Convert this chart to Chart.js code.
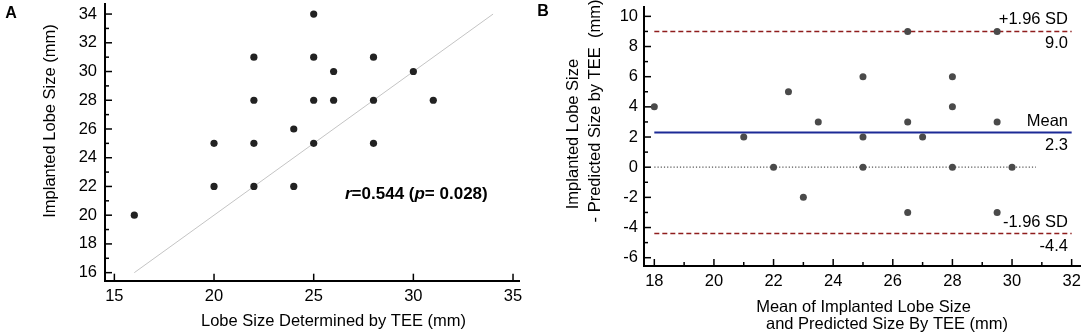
<!DOCTYPE html>
<html><head><meta charset="utf-8">
<script src="https://cdn.jsdelivr.net/npm/chart.js@4.4.1/dist/chart.umd.min.js"></script>
<style>
html,body{margin:0;padding:0;background:#fff;}
#wrap{position:relative;width:1084px;height:334px;overflow:hidden;background:#fff;}
#ca{position:absolute;left:0;top:0;}
#cb{position:absolute;left:530px;top:0;}
</style></head><body>
<div id="wrap"><canvas id="ca" width="530" height="334"></canvas><canvas id="cb" width="554" height="334"></canvas></div>
<script>
// ---------- Panel A data ----------
const teeSize       = [16,20,20,22,22,22,22,24,24,25,25,25,25,26,26,28,28,28,30,31];
const implantedSize = [20,25,22,31,28,25,22,26,22,34,31,28,25,30,28,31,28,25,30,28];
const identityLineX = [16,34];
const aXTicks = [15,20,25,30,35];
const aYTicks = [16,18,20,22,24,26,28,30,32,34];
const aYMinor = [17,19,21,23,25,27,29,31,33];
const aXTitle = 'Lobe Size Determined by TEE (mm)';
const aYTitle = 'Implanted Lobe Size (mm)';
const corrR = '0.544';
const corrP = '0.028';

// ---------- Panel B data ----------
const meanSize = [18,22.5,21,26.5,25,23.5,22,25,23,29.5,28,26.5,25,28,27,29.5,28,26.5,30,29.5];
const sizeDiff = [4,5,2,9,6,3,0,2,-2,9,6,3,0,4,2,3,0,-3,0,-3];
const meanDiff = 2.3;
const upperLoA = 9.0;
const lowerLoA = -4.4;
const limitLineX = [18,32];
const zeroLineX = [18,30.8];
const bXTicks = [18,20,22,24,26,28,30,32];
const bXMinor = [19,21,23,25,27,29,31];
const bYTicks = [-6,-4,-2,0,2,4,6,8,10];
const bYMinor = [-5,-3,-1,1,3,5,7,9];
const bXTitle = ['Mean of Implanted Lobe Size','and Predicted Size By TEE (mm)'];
const bYTitle = ['Implanted Lobe Size','- Predicted Size by TEE  (mm)'];

const FONT = '"Liberation Sans", Arial, Helvetica, sans-serif';
const FS = 16.5;

function fixY(w){ return function(s){ s.width = w; s.paddingTop = 0; s.paddingBottom = 0; }; }
function fixX(h){ return function(s){ s.height = h; s.paddingLeft = 0; s.paddingRight = 0; }; }
function setTicks(arr){ return function(s){ s.ticks = arr.map(v => ({value: v})); }; }

function tickMarks(xMajor, xMinor, yMajor, yMinor){
  return {
    id: 'tickMarks',
    afterDraw(chart){
      const ctx = chart.ctx, a = chart.chartArea, sx = chart.scales.x, sy = chart.scales.y;
      ctx.save();
      ctx.strokeStyle = '#000'; ctx.lineWidth = 1.5;
      const seg = (x1,y1,x2,y2) => { ctx.beginPath(); ctx.moveTo(x1,y1); ctx.lineTo(x2,y2); ctx.stroke(); };
      xMajor.forEach(v => { const p = sx.getPixelForValue(v); seg(p, a.bottom, p, a.bottom - 7); });
      xMinor.forEach(v => { const p = sx.getPixelForValue(v); seg(p, a.bottom, p, a.bottom - 4); });
      yMajor.forEach(v => { const p = sy.getPixelForValue(v); seg(a.left, p, a.left + 7, p); });
      yMinor.forEach(v => { const p = sy.getPixelForValue(v); seg(a.left, p, a.left + 4, p); });
      ctx.restore();
    }
  };
}

const baseScale = (min, max, ticks, padding, fit) => ({
  type: 'linear', min, max,
  grid: { display: false, drawTicks: false },
  border: { display: true, color: '#000', width: 2 },
  ticks: { color: '#000', font: { family: FONT, size: FS }, padding, autoSkip: false, maxRotation: 0,
           callback: v => String(v) },
  afterBuildTicks: setTicks(ticks),
  afterFit: fit
});

// ---------- Chart A ----------
const textA = {
  id: 'textA',
  afterDraw(chart){
    const ctx = chart.ctx;
    ctx.save();
    ctx.fillStyle = '#000';
    ctx.font = 'bold 16px ' + FONT; ctx.textAlign = 'center'; ctx.textBaseline = 'middle';
    ctx.fillText('A', 11, 14);
    ctx.font = FS + 'px ' + FONT;
    ctx.textAlign = 'left';
    ctx.fillText(aXTitle, 201, 321);
    ctx.save(); ctx.translate(50, 121); ctx.rotate(-Math.PI/2); ctx.textAlign = 'center';
    ctx.fillText(aYTitle, 0, 0); ctx.restore();
    // correlation annotation
    let x = 345; const y = 194;
    const parts = [['r', true], ['=' + corrR + ' (', false], ['p', true], ['= ' + corrP + ')', false]];
    parts.forEach(([t, it]) => {
      ctx.font = (it ? 'italic ' : '') + 'bold 17px ' + FONT;
      ctx.fillText(t, x, y); x += ctx.measureText(t).width;
    });
    ctx.restore();
  }
};

new Chart(document.getElementById('ca'), {
  type: 'scatter',
  data: { datasets: [
    { data: teeSize.map((v,i) => ({x: v, y: implantedSize[i]})), backgroundColor: '#222', borderColor: '#222',
      pointRadius: 3.6, pointHoverRadius: 3.6, borderWidth: 0 },
    { type: 'line', data: identityLineX.map(v => ({x: v, y: v})), borderColor: '#c4c4c4', borderWidth: 1,
      pointRadius: 0, fill: false }
  ]},
  options: {
    responsive: false, animation: false, devicePixelRatio: 1,
    layout: { padding: { left: 0, top: 4, right: 11, bottom: 0 } },
    plugins: { legend: { display: false }, tooltip: { enabled: false } },
    scales: {
      x: baseScale(14.53, 35.3, aXTicks, 6, fixX(53.3)),
      y: baseScale(15.44, 34.7, aYTicks, 8, fixY(105))
    }
  },
  plugins: [tickMarks(aXTicks, [], aYTicks, aYMinor), textA]
});

// ---------- Chart B ----------
const textB = {
  id: 'textB',
  afterDraw(chart){
    const ctx = chart.ctx, a = chart.chartArea, sy = chart.scales.y;
    ctx.save();
    ctx.fillStyle = '#000';
    ctx.font = 'bold 16px ' + FONT; ctx.textAlign = 'center'; ctx.textBaseline = 'middle';
    ctx.fillText('B', 13, 12);
    ctx.font = FS + 'px ' + FONT;
    // axis titles
    ctx.fillText(bXTitle[0], 333.5, 307);
    ctx.fillText(bXTitle[1], 357, 324);
    ctx.save(); ctx.translate(43.5, 134); ctx.rotate(-Math.PI/2); ctx.fillText(bYTitle[0], 0, 0); ctx.restore();
    ctx.save(); ctx.translate(65, 111); ctx.rotate(-Math.PI/2); ctx.fillText(bYTitle[1], 0, 0); ctx.restore();
    // limit labels
    ctx.textAlign = 'right';
    const xr = a.right - 12;
    const lab = (val, above, below) => {
      const p = sy.getPixelForValue(val);
      ctx.fillText(above, xr, p - 11.5);
      ctx.fillText(below, xr, p + 12.5);
    };
    lab(upperLoA, '+1.96 SD', upperLoA.toFixed(1));
    lab(meanDiff, 'Mean', meanDiff.toFixed(1));
    lab(lowerLoA, '-1.96 SD', lowerLoA.toFixed(1));
    ctx.restore();
  }
};

new Chart(document.getElementById('cb'), {
  type: 'scatter',
  data: { datasets: [
    { data: meanSize.map((v,i) => ({x: v, y: sizeDiff[i]})), backgroundColor: '#4a4a4a', borderColor: '#4a4a4a',
      pointRadius: 3.5, pointHoverRadius: 3.5, borderWidth: 0 },
    { type: 'line', data: limitLineX.map(v => ({x: v, y: upperLoA})), borderColor: '#8f1d1d', borderWidth: 1.5,
      borderDash: [5, 3], pointRadius: 0, fill: false },
    { type: 'line', data: limitLineX.map(v => ({x: v, y: lowerLoA})), borderColor: '#8f1d1d', borderWidth: 1.5,
      borderDash: [5, 3], pointRadius: 0, fill: false },
    { type: 'line', data: limitLineX.map(v => ({x: v, y: meanDiff})), borderColor: '#1c2a96', borderWidth: 2,
      pointRadius: 0, fill: false },
    { type: 'line', data: zeroLineX.map(v => ({x: v, y: 0})), borderColor: '#555', borderWidth: 1.2,
      borderDash: [1.2, 2], pointRadius: 0, fill: false }
  ]},
  options: {
    responsive: false, animation: false, devicePixelRatio: 1,
    layout: { padding: { left: 0, top: 7, right: 4, bottom: 0 } },
    plugins: { legend: { display: false }, tooltip: { enabled: false } },
    scales: {
      x: baseScale(17.654, 32.28, bXTicks, 6, fixX(68)),
      y: baseScale(-6.55, 10.62, bYTicks, 6, fixY(114))
    }
  },
  plugins: [tickMarks(bXTicks, bXMinor, bYTicks, bYMinor), textB]
});
</script>
</body></html>
